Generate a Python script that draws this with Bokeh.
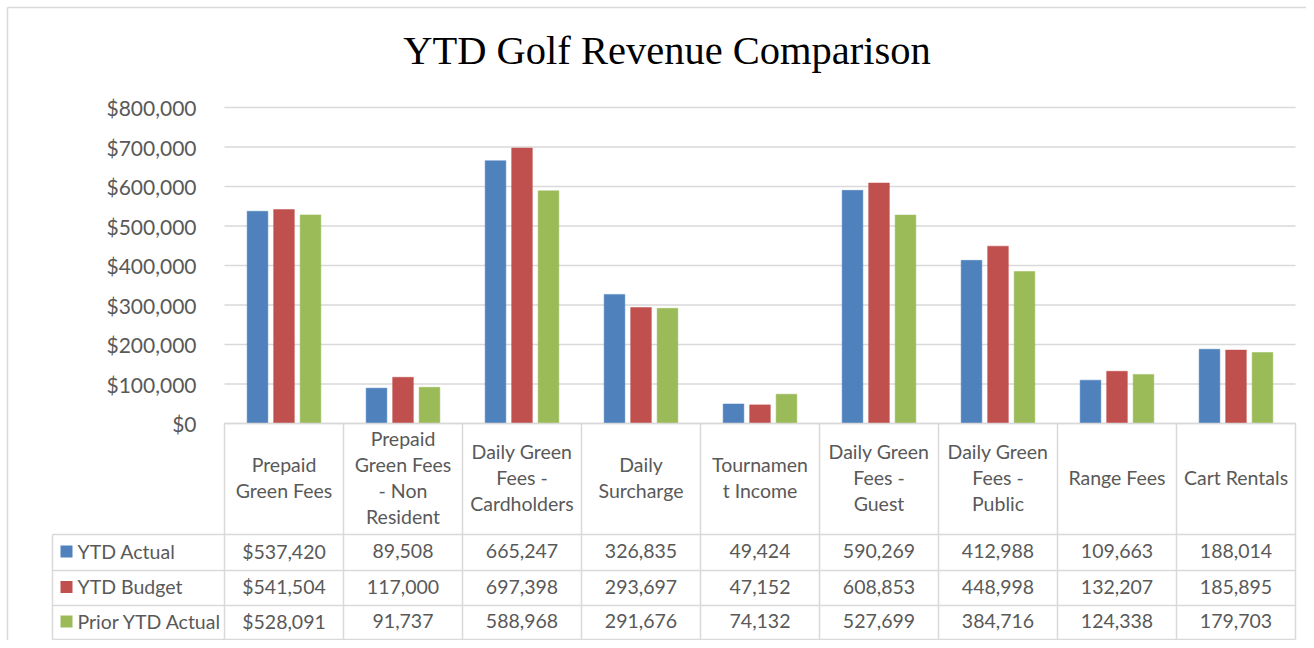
from bokeh.plotting import figure
from bokeh.models import Range1d
from bokeh.embed import file_html
from bokeh.resources import INLINE
from bokeh.core.properties import value

# ---------------- data ----------------
categories = [
    "Prepaid\nGreen Fees",
    "Prepaid\nGreen Fees\n- Non\nResident",
    "Daily Green\nFees -\nCardholders",
    "Daily\nSurcharge",
    "Tournamen\nt Income",
    "Daily Green\nFees -\nGuest",
    "Daily Green\nFees -\nPublic",
    "Range Fees",
    "Cart Rentals",
]
series_names = ["YTD Actual", "YTD Budget", "Prior YTD Actual"]
ytd_actual = [537420, 89508, 665247, 326835, 49424, 590269, 412988, 109663, 188014]
ytd_budget = [541504, 117000, 697398, 293697, 47152, 608853, 448998, 132207, 185895]
prior_ytd_actual = [528091, 91737, 588968, 291676, 74132, 527699, 384716, 124338, 179703]
y_ticks = [0, 100000, 200000, 300000, 400000, 500000, 600000, 700000, 800000]
title_text = "YTD Golf Revenue Comparison"

series_values = [ytd_actual, ytd_budget, prior_ytd_actual]
colors = ["#4f81bd", "#c0504d", "#9bbb59"]

# ---------------- layout (canvas px) ----------------
W, H = 1306, 640
PLOT_L = 224          # canvas x of first category's left edge
COL_W = 119           # width of one category
ZERO_Y = 423          # canvas y of $0
TOP_Y = 107           # canvas y of top tick
LEG_L = 52            # canvas x of table legend column left edge
HEAD_BOTTOM = 534
ROW_LINES = [534, 570, 605, 639]
LINE_H = 26
TXT_SHIFT = -1.5
GRID = "#d9d9d9"
TXT = "#595959"
FONT = value("Lato")
FS_AXIS = value("21px")
FS = value("19.5px")

n = len(categories)
dpp = y_ticks[-1] / (ZERO_Y - TOP_Y)

p = figure(width=W, height=H, output_backend="svg", toolbar_location=None,
           x_range=Range1d(-PLOT_L / COL_W, (W - PLOT_L) / COL_W),
           y_range=Range1d(-(H - ZERO_Y) * dpp, ZERO_Y * dpp),
           x_axis_location=None, y_axis_location=None, min_border=0)
p.extra_x_ranges = {"px": Range1d(0, W)}
p.extra_y_ranges = {"px": Range1d(start=H, end=0)}
p.grid.visible = False
p.outline_line_color = None
p.background_fill_color = "white"
p.border_fill_color = "white"

# outer chart border (left & top visible)
p.segment(x0=[7, 7], y0=[7, 7], x1=[7, W], y1=[H, 7],
          x_range_name="px", y_range_name="px", line_color=GRID, line_width=1.5)

# title
p.text(x=[666.5], y=[50], text=[title_text], x_range_name="px", y_range_name="px",
       text_font=value("Liberation Serif"), text_font_size=value("40.5px"),
       text_color="black", text_align="center", text_baseline="middle")

# gridlines
p.segment(x0=[0] * len(y_ticks), x1=[n] * len(y_ticks), y0=y_ticks, y1=y_ticks,
          line_color=GRID, line_width=1.5)

# y tick labels
p.text(x=[PLOT_L - 28] * len(y_ticks), y=y_ticks, text=[f"${v:,}" for v in y_ticks],
       x_range_name="px", text_font=FONT, text_font_size=FS_AXIS, text_color=TXT,
       text_align="right", text_baseline="middle")

# bars
offs = [-0.2227, 0.0, 0.2227]
for s, vals in enumerate(series_values):
    p.vbar(x=[i + 0.5 + offs[s] for i in range(n)], top=vals, bottom=0, width=0.174,
           fill_color=colors[s], line_color=colors[s], line_width=0.5)

# ---------------- data table ----------------
leg_l_units = (LEG_L - PLOT_L) / COL_W
p.segment(x0=[0], x1=[n], y0=[ZERO_Y], y1=[ZERO_Y], y_range_name="px",
          line_color=GRID, line_width=1.5)
p.segment(x0=[leg_l_units] * len(ROW_LINES), x1=[n] * len(ROW_LINES),
          y0=ROW_LINES, y1=ROW_LINES, y_range_name="px", line_color=GRID, line_width=1.5)
p.segment(x0=list(range(n + 1)), x1=list(range(n + 1)), y0=[ZERO_Y] * (n + 1),
          y1=[ROW_LINES[-1]] * (n + 1), y_range_name="px", line_color=GRID, line_width=1.5)
p.segment(x0=[leg_l_units], x1=[leg_l_units], y0=[HEAD_BOTTOM], y1=[ROW_LINES[-1]],
          y_range_name="px", line_color=GRID, line_width=1.5)

# header labels
hx, hy, ht = [], [], []
head_c = (ZERO_Y + HEAD_BOTTOM) / 2 + TXT_SHIFT
for i, cat in enumerate(categories):
    lines = cat.split("\n")
    for k, ln in enumerate(lines):
        hx.append(i + 0.5)
        hy.append(head_c + (k - (len(lines) - 1) / 2) * LINE_H)
        ht.append(ln)
p.text(x=hx, y=hy, text=ht, y_range_name="px", text_font=FONT, text_font_size=FS,
       text_color=TXT, text_align="center", text_baseline="middle")

# rows
row_c = [(ROW_LINES[r] + ROW_LINES[r + 1]) / 2 for r in range(3)]
for s, vals in enumerate(series_values):
    cy = row_c[s]
    p.scatter(x=[LEG_L + 14], y=[cy - 1], marker="square", size=12,
              fill_color=colors[s], line_color=None,
              x_range_name="px", y_range_name="px")
    p.text(x=[LEG_L + 25], y=[cy + TXT_SHIFT], text=[series_names[s]], x_range_name="px",
           y_range_name="px", text_font=FONT, text_font_size=FS, text_color=TXT,
           text_align="left", text_baseline="middle")
    labels = [(f"${v:,}" if i == 0 else f"{v:,}") for i, v in enumerate(vals)]
    p.text(x=[i + 0.5 for i in range(n)], y=[cy + TXT_SHIFT] * n, text=labels,
           y_range_name="px", text_font=FONT, text_font_size=FS, text_color=TXT,
           text_align="center", text_baseline="middle")

open("out.html", "w").write(file_html(p, INLINE))
